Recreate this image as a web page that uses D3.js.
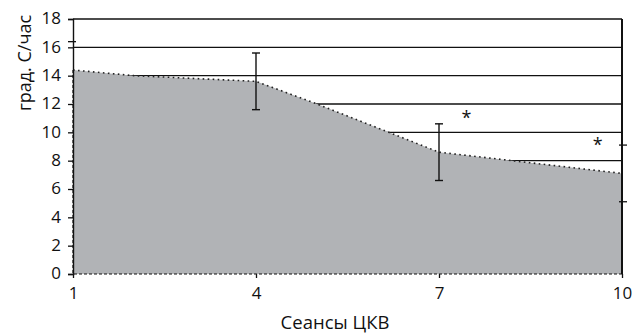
<!DOCTYPE html>
<html><head><meta charset="utf-8">
<script src="https://cdn.jsdelivr.net/npm/d3@7"></script>
<style>html,body{margin:0;padding:0;background:#fff;}svg{display:block;}</style>
</head><body>
<svg id="c" width="640" height="335"></svg>
<script>
const sessions = [1,2,3,4,5,6,7,8,9,10];
const values = [14.4,14.0,13.8,13.6,12.0,10.3,8.6,8.1,7.6,7.1];
const errSessions = [4,7];
const errLow = [11.6,6.6];
const errHigh = [15.6,10.6];
const starX = [7.45,9.6];
const starY = [11.3,9.4];
const yTicks = [0,2,4,6,8,10,12,14,16,18];
const xTicks = [1,4,7,10];
const rightTicks = [9.1,5.1];
const leftExtraTick = [16.4];
const xTitle = "Сеансы ЦКВ";
const yTitle = "град. С/час";

const svg = d3.select("#c");
const font = "'Open Sans', 'DejaVu Sans', sans-serif";
const x = d3.scaleLinear().domain([1,10]).range([73,622]);
const y = d3.scaleLinear().domain([0,18]).range([274,19]);

// gridlines
svg.append("g").selectAll("line").data(yTicks.filter(d=>d>0)).join("line")
  .attr("x1",x(1)).attr("x2",x(10)).attr("y1",d=>y(d)).attr("y2",d=>y(d))
  .attr("stroke","#111").attr("stroke-width",1.3);

const pts = sessions.map((s,i)=>[s,values[i]]);
// area
const area = d3.area().x(d=>x(d[0])).y0(y(0)).y1(d=>y(d[1]));
svg.append("path").datum(pts).attr("d",area).attr("fill","#b1b3b6");
// dashed border (left, bottom, right)
svg.append("path")
  .attr("d", d3.line()([[x(1),y(values[0])],[x(1),y(0)],[x(10),y(0)],[x(10),y(values[9])]]))
  .attr("fill","none").attr("stroke","#111").attr("stroke-width",1.2).attr("stroke-dasharray","3,2");
// dotted top line
svg.append("path").datum(pts).attr("d",d3.line().x(d=>x(d[0])).y(d=>y(d[1])))
  .attr("fill","none").attr("stroke","#222").attr("stroke-width",1.6).attr("stroke-dasharray","1.6,3.4");

// left axis
const ya = svg.append("g").attr("transform",`translate(${x(1)},0)`)
  .call(d3.axisLeft(y).tickValues(yTicks).tickSize(5).tickPadding(7));
ya.select(".domain").attr("stroke","#111").attr("stroke-width",1.4);
ya.selectAll(".tick line").attr("stroke","#111").attr("stroke-width",1.3);
ya.selectAll("text").attr("font-family",font).attr("font-size",17).attr("fill","#111").attr("dy","0.28em");
svg.append("g").selectAll("line").data(leftExtraTick).join("line")
  .attr("x1",x(1)-5).attr("x2",x(1)+3).attr("y1",d=>y(d)).attr("y2",d=>y(d))
  .attr("stroke","#111").attr("stroke-width",1.3);

// right axis
svg.append("line").attr("x1",x(10)).attr("x2",x(10)).attr("y1",y(18)).attr("y2",y(0))
  .attr("stroke","#111").attr("stroke-width",2);
svg.append("g").selectAll("line").data(rightTicks).join("line")
  .attr("x1",x(10)-3).attr("x2",x(10)+5).attr("y1",d=>y(d)).attr("y2",d=>y(d))
  .attr("stroke","#111").attr("stroke-width",1.3);

// bottom axis (ticks and labels only)
const xa = svg.append("g").attr("transform",`translate(0,${y(0)})`)
  .call(d3.axisBottom(x).tickValues(xTicks).tickFormat(d3.format("d")).tickSize(4).tickPadding(9));
xa.select(".domain").remove();
xa.selectAll(".tick line").attr("stroke","#111").attr("stroke-width",1.3);
xa.selectAll("text").attr("font-family",font).attr("font-size",17).attr("fill","#111");

// error bars
const eb = svg.append("g").selectAll("g").data(errSessions).join("g");
eb.append("line").attr("x1",d=>x(d)).attr("x2",d=>x(d))
  .attr("y1",(d,i)=>y(errHigh[i])).attr("y2",(d,i)=>y(errLow[i]))
  .attr("stroke","#111").attr("stroke-width",1.4);
eb.append("line").attr("x1",d=>x(d)-4).attr("x2",d=>x(d)+4)
  .attr("y1",(d,i)=>y(errHigh[i])).attr("y2",(d,i)=>y(errHigh[i]))
  .attr("stroke","#111").attr("stroke-width",1.4);
eb.append("line").attr("x1",d=>x(d)-4).attr("x2",d=>x(d)+4)
  .attr("y1",(d,i)=>y(errLow[i])).attr("y2",(d,i)=>y(errLow[i]))
  .attr("stroke","#111").attr("stroke-width",1.4);

// asterisks
svg.append("g").selectAll("text").data(starX).join("text")
  .attr("x",d=>x(d)).attr("y",(d,i)=>y(starY[i])+10)
  .attr("text-anchor","middle").attr("font-family",font).attr("font-size",18).attr("fill","#111")
  .text("*");

// titles
svg.append("text").attr("x",335).attr("y",329).attr("text-anchor","middle")
  .attr("font-family",font).attr("font-size",18.5).attr("fill","#111").text(xTitle);
svg.append("text").attr("transform","translate(31,63) rotate(-90)").attr("text-anchor","middle")
  .attr("font-family",font).attr("font-size",18).attr("fill","#111").text(yTitle);
</script>
</body></html>
